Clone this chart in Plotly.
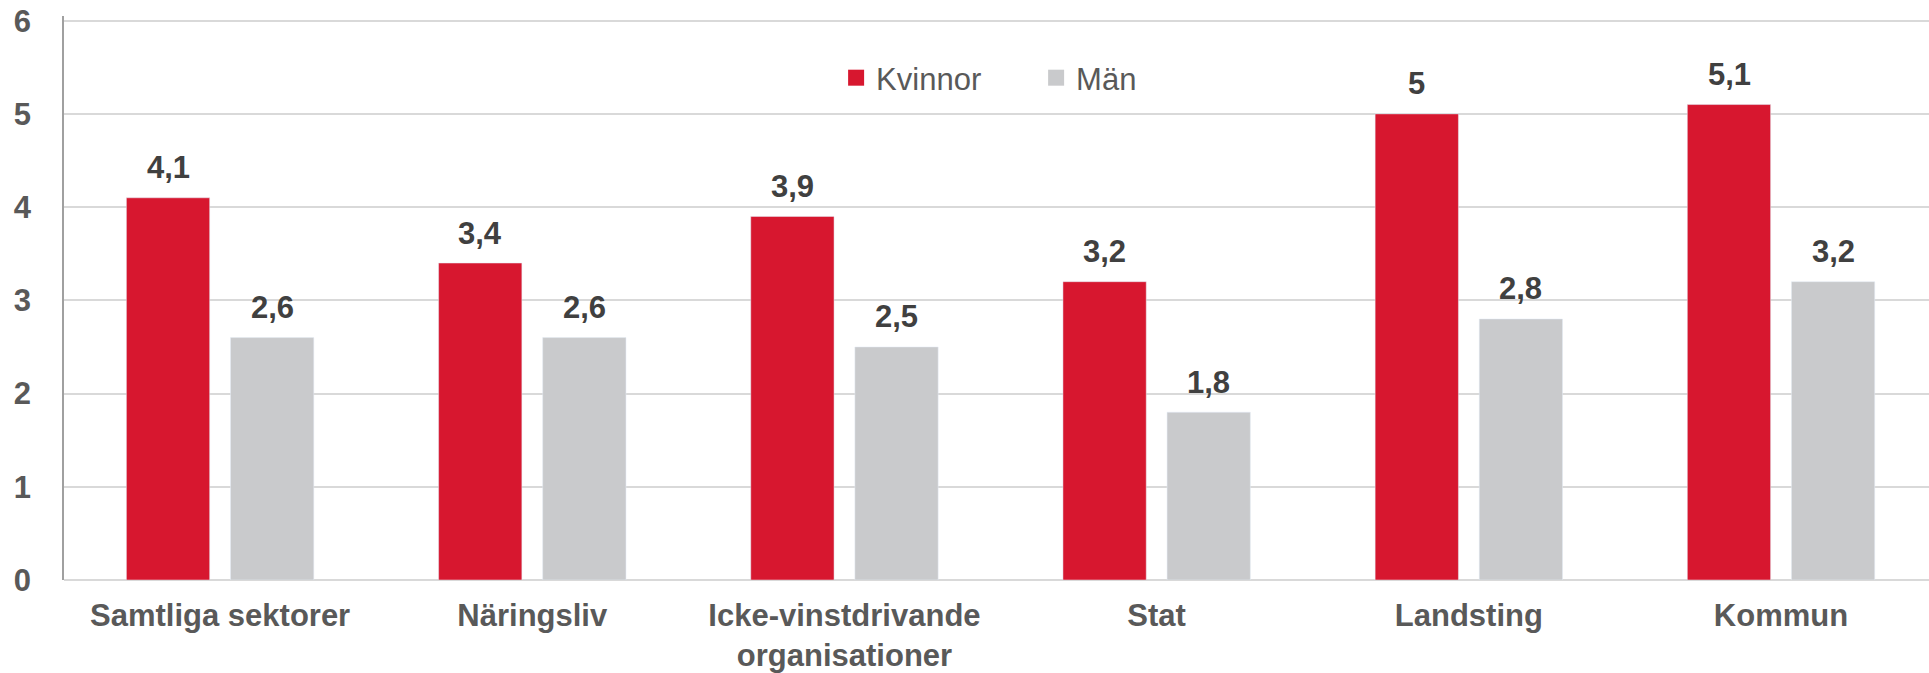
import plotly.graph_objects as go

categories = [
    "Samtliga sektorer",
    "Näringsliv",
    "Icke-vinstdrivande<br>organisationer",
    "Stat",
    "Landsting",
    "Kommun",
]
kvinnor = [4.1, 3.4, 3.9, 3.2, 5.0, 5.1]
man = [2.6, 2.6, 2.5, 1.8, 2.8, 3.2]
y_ticks = [0, 1, 2, 3, 4, 5, 6]

RED = "#d7172f"
GREY = "#c9cacc"
AXIS_TXT = "#595959"
LABEL_TXT = "#404040"
FONT = "Arial, Liberation Sans, sans-serif"


def fmt(v):
    # swedish decimal comma
    return f"{v:g}".replace(".", ",")


fig = go.Figure()
fig.add_trace(go.Bar(x=categories, y=kvinnor, name="Kvinnor", marker_color=RED, showlegend=False))
fig.add_trace(go.Bar(x=categories, y=man, name="Män", marker_color=GREY, showlegend=False))

# legend entries with bigger square symbols
fig.add_trace(go.Scatter(x=[None], y=[None], mode="markers", name="Kvinnor",
                         marker=dict(symbol="square", size=16, color=RED)))
fig.add_trace(go.Scatter(x=[None], y=[None], mode="markers", name="Män",
                         marker=dict(symbol="square", size=16, color=GREY)))

# value labels above the bars
annotations = []
for series, shift in ((kvinnor, -52), (man, 52)):
    for cat, v in zip(categories, series):
        annotations.append(dict(
            x=cat, y=v, text=fmt(v), showarrow=False,
            xshift=shift, yshift=30, yanchor="middle",
            font=dict(family=FONT, size=31, color=LABEL_TXT, weight="bold"),
        ))

fig.update_layout(
    width=1929,
    height=673,
    margin=dict(l=64, r=0, t=16, b=91),
    paper_bgcolor="white",
    plot_bgcolor="white",
    barmode="group",
    bargap=0.333,
    bargroupgap=0.2,
    font=dict(family=FONT, color=AXIS_TXT),
    annotations=annotations,
    legend=dict(
        orientation="h",
        x=0.414, xanchor="left",
        y=0.89, yanchor="middle",
        font=dict(size=31, color=AXIS_TXT),
        entrywidth=155,
        bgcolor="rgba(0,0,0,0)",
    ),
)

fig.update_xaxes(
    range=[-0.5, 5.474],
    showgrid=False,
    tickfont=dict(size=31, weight="bold", color=AXIS_TXT),
    ticklabelstandoff=14,
)
fig.update_yaxes(
    # a little headroom so the gridline at 6 is drawn
    range=[0, 6.05],
    tickvals=y_ticks,
    tickfont=dict(size=31, weight="bold", color=AXIS_TXT),
    showgrid=True,
    gridcolor="#d9d9d9",
    gridwidth=1.5,
    showline=True,
    linecolor="#a0a0a0",
    linewidth=1.5,
    zeroline=True,
    zerolinecolor="#d9d9d9",
    zerolinewidth=2,
    ticklabelstandoff=25,
)

# drop the browser's default body margin so the figure sits at 0,0
fig.write_html(
    "out.html",
    config={"displayModeBar": False},
    post_script="document.body.style.margin='0';",
)
